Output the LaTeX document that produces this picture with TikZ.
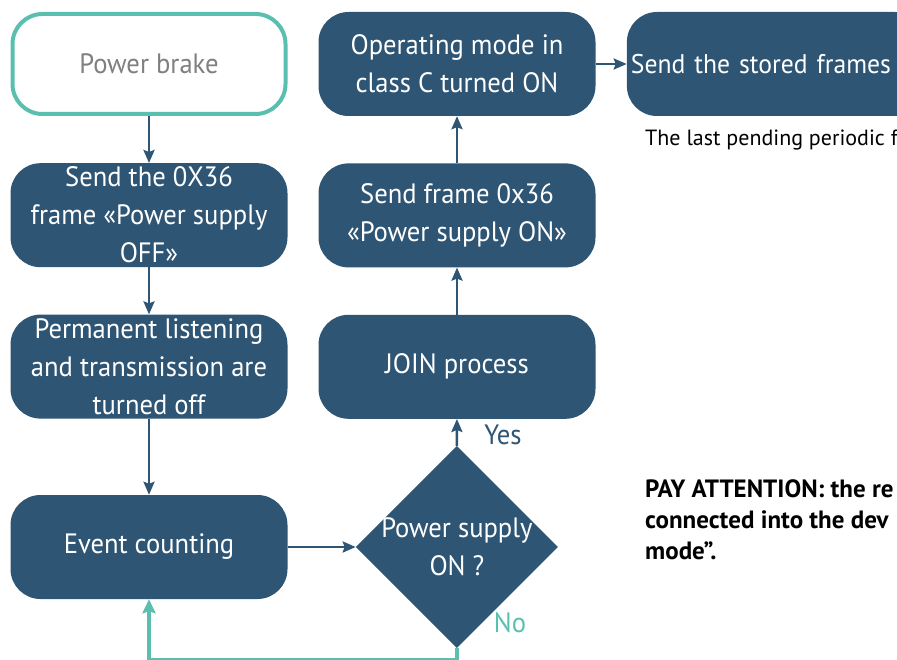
\documentclass[tikz,border=0pt]{standalone}
\usepackage{fontspec}
\setmainfont{PT Sans}
\newfontfamily\boxfont[FakeStretch=0.95]{PT Sans}
\usetikzlibrary{positioning,shapes.geometric,arrows.meta}
\definecolor{boxblue}{RGB}{46,85,116}
\definecolor{mint}{RGB}{91,191,176}
\tikzset{
    stepbox/.style={rectangle, rounded corners=30pt, fill=boxblue, text=white,
        minimum width=277pt, minimum height=104pt, inner sep=0pt, align=center,
        font=\boxfont\fontsize{28}{38}\selectfont},
    startbox/.style={stepbox, fill=white, draw=mint, line width=4pt, text=gray,
        minimum width=273pt, minimum height=100pt},
    askbox/.style={diamond, fill=boxblue, text=white, minimum width=202pt,
        minimum height=202pt, inner sep=-14pt, align=center,
        font=\boxfont\fontsize{28}{38}\selectfont},
    flow/.style={draw=boxblue, line width=2.5pt, -{Stealth[length=13pt,width=11pt,inset=2pt]}},
    backflow/.style={draw=mint, line width=4pt, -{Stealth[length=14pt,width=13pt,inset=2pt]}},
    note/.style={anchor=west, inner sep=0pt, font=\fontsize{22}{31}\selectfont},
}
\begin{document}
\begin{tikzpicture}[x=1pt, y=-1pt]
    \useasboundingbox (0,0) rectangle (897,660);
    \clip (0,0) rectangle (897,660);

    % left column
    \node[startbox] (brake) at (149,64) {Power brake};
    \node[stepbox, below=47pt of brake] (sendoff) {Send the 0X36\\frame «Power supply\\OFF»};
    \node[stepbox, below=47pt of sendoff] (listen) {Permanent listening\\and transmission are\\turned off};
    \node[stepbox, below=76pt of listen] (count) {Event counting};

    % decision
    \node[askbox, right=68pt of count] (ask) {Power supply\\ON ?};

    % right column
    \node[stepbox] (opmode) at (457,64) {Operating mode in\\class C turned ON};
    \node[stepbox, below=47pt of opmode] (sendon) {Send frame 0x36\\«Power supply ON»};
    \node[stepbox, below=47pt of sendon] (join) {JOIN process};
    \node[stepbox, right=31pt of opmode, anchor=west, text width=290pt, align=left,
        inner xsep=4pt, font=\boxfont\fontsize{27}{38}\selectfont] (stored) {Send the stored frames};

    % arrows
    \foreach \a/\b in {brake/sendoff, sendoff/listen, listen/count, join/sendon, sendon/opmode} {
        \draw[flow] (\a) -- (\b);
    }
    \draw[flow] (count) -- (ask);
    \draw[flow] (ask.north) -- (join);
    \draw[flow] (opmode) -- (stored);
    \draw[backflow] (ask.south) -- ++(0,12) -| (count.south);

    \node[text=boxblue, font=\boxfont\fontsize{28}{30}\selectfont] (yes) at (503,435) {Yes};
    \node[text=mint, font=\boxfont\fontsize{28}{30}\selectfont] (no) at (510,623) {No};

    % notes
    \node[note] (pending) at (645,140) {The last pending periodic f};
    \node[note, anchor=north west, align=left, font=\fontsize{25}{31}\selectfont\bfseries]
        (warn) at (645,479) {PAY ATTENTION: the re\\connected into the dev\\mode”.};
\end{tikzpicture}
\end{document}
